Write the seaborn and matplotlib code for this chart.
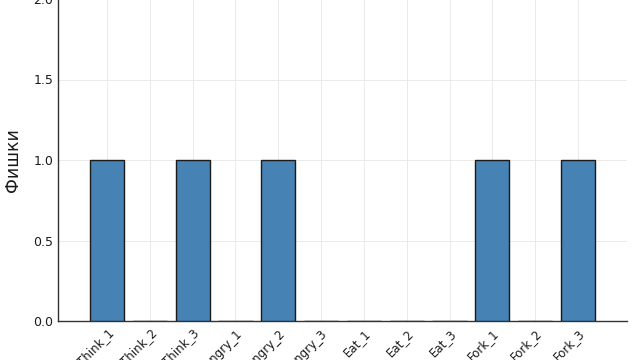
import matplotlib
matplotlib.use("Agg")
import matplotlib.pyplot as plt
import matplotlib.transforms as mtransforms
import seaborn as sns
import pandas as pd

categories = ["Think_1", "Think_2", "Think_3", "Hungry_1", "Hungry_2", "Hungry_3",
              "Eat_1", "Eat_2", "Eat_3", "Fork_1", "Fork_2", "Fork_3"]
values = [1, 0, 1, 0, 1, 0, 0, 0, 0, 1, 0, 1]
yticks = [0.0, 0.5, 1.0, 1.5, 2.0]

sns.set_theme(style="white")
plt.rcParams['font.family'] = ['DejaVu Sans']

df = pd.DataFrame({"cat": categories, "val": values})

fig = plt.figure(figsize=(6.4, 3.6), dpi=100)
ax = fig.add_axes([58/640, 39/360, (627-58)/640, 322/360])
sns.barplot(data=df, x="cat", y="val", ax=ax, color="#4682B4", saturation=1,
            width=0.8, edgecolor="#1a1a1a", linewidth=1.0, zorder=3)

ax.set_xlim(-1.145, 12.145)
ax.set_ylim(0, 2.0)
ax.set_yticks(yticks)
ax.set_yticklabels([f"{v:.1f}" for v in yticks])
ax.set_xticks(range(len(categories)))
ax.set_xticklabels(categories, rotation=45, ha="right", va="top", rotation_mode="anchor",
                   fontsize=8.5)
offset = mtransforms.ScaledTranslation(4/100, -2/100, fig.dpi_scale_trans)
for lab in ax.get_xticklabels():
    lab.set_transform(lab.get_transform() + offset)
ax.set_xlabel("")
ax.set_ylabel("Фишки", fontsize=12.5, color="#1a1a1a", labelpad=8)
ax.grid(True, color="#e6e6e6", linewidth=0.6, zorder=0)
ax.set_axisbelow(True)
for s in ["top", "right"]:
    ax.spines[s].set_visible(False)
for s in ["left", "bottom"]:
    ax.spines[s].set_color("#333333")
    ax.spines[s].set_linewidth(1.0)
ax.tick_params(axis="both", direction="in", length=3, width=0.6, color="#333333",
               labelcolor="#1a1a1a")
ax.tick_params(axis="y", labelsize=9)
ax.tick_params(axis="x", pad=4)

fig.savefig("out.png", dpi=100)
